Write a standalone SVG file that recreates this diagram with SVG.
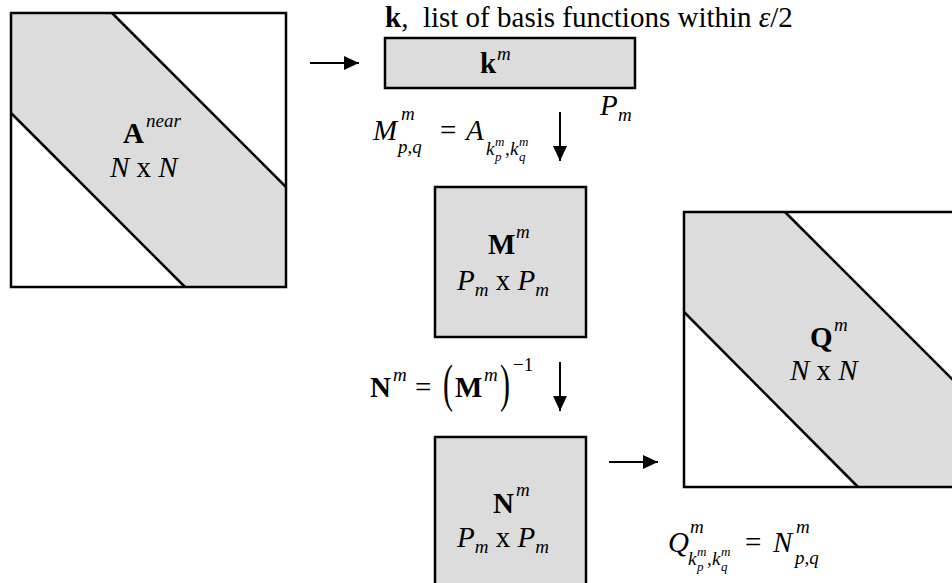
<svg xmlns="http://www.w3.org/2000/svg" width="952" height="583" viewBox="0 0 952 583">
<style>
.g{fill:#dcdcdc;stroke:none}
.bx{fill:#dcdcdc;stroke:#000;stroke-width:2.5}
.fr{fill:none;stroke:#000;stroke-width:2.5}
.wh{fill:#fff;stroke:none}
.ed{stroke:#000;stroke-width:2.5;fill:none}
.cn{stroke:#000;stroke-width:2;fill:none}
text{font-family:"Liberation Serif","Times New Roman",serif;font-size:29px;fill:#000}
.i{font-style:italic}
.b{font-weight:bold}
.s{font-size:19px}
.ss{font-size:13px}
</style>
<defs>
<marker id="ah" viewBox="0 0 15 14" refX="15" refY="7" markerWidth="15" markerHeight="14" markerUnits="userSpaceOnUse" orient="auto">
<path d="M0,0 L15,7 L0,14 z" fill="#000"/>
</marker>
</defs>

<g id="anear">
<rect class="wh" x="11" y="13" width="275" height="274"/>
<polygon class="g" points="11,13 112,13 286,187 286,287 185,287 11,113"/>
<line class="ed" x1="112" y1="13" x2="286" y2="187"/>
<line class="ed" x1="11" y1="113" x2="185" y2="287"/>
<rect class="fr" x="11" y="13" width="275" height="274"/>
<text x="123" y="143" class="b">A</text>
<text x="146" y="127" class="i s">near</text>
<text x="110" y="177"><tspan class="i">N</tspan> x <tspan class="i">N</tspan></text>
</g>

<g id="title">
<text x="385" y="27" xml:space="preserve"><tspan class="b">k</tspan>,  list of basis functions within <tspan class="i">ε</tspan>/2</text>
</g>

<g id="km">
<rect class="bx" x="385" y="38" width="250" height="50"/>
<text x="480" y="73" class="b">k</text>
<text x="497" y="60" class="i s">m</text>
<text x="600" y="115" class="i">P</text>
<text x="618" y="121" class="i s">m</text>
</g>

<g id="mformula">
<text x="373" y="140" class="i">M</text>
<text x="401" y="120" class="i s">m</text>
<text x="398" y="153" class="i s">p,q</text>
<text x="440" y="140">=</text>
<text x="466" y="140" class="i">A</text>
<text x="486" y="155" class="i s">k</text>
<text x="495" y="146" class="i ss">m</text>
<text x="495" y="161" class="i ss">p</text>
<text x="505" y="155" class="i s">,</text>
<text x="510" y="155" class="i s">k</text>
<text x="519" y="146" class="i ss">m</text>
<text x="519" y="161" class="i ss">q</text>
</g>

<g id="mm">
<rect class="bx" x="435" y="187" width="151" height="150"/>
<text x="488" y="254" class="b">M</text>
<text x="516" y="238" class="i s">m</text>
<text x="457" y="290"><tspan class="i">P</tspan><tspan class="i s" dy="6">m</tspan><tspan dy="-6"> x </tspan><tspan class="i">P</tspan><tspan class="i s" dy="6">m</tspan></text>
</g>

<g id="nformula">
<text x="370" y="397" class="b">N</text>
<text x="393" y="381" class="i s">m</text>
<text x="415" y="397">=</text>
<text transform="translate(443,401) scale(1,1.75)" style="font-size:30px">(</text>
<text x="455" y="397" class="b">M</text>
<text x="484" y="381" class="i s">m</text>
<text transform="translate(500,401) scale(1,1.75)" style="font-size:30px">)</text>
<text x="513" y="371" class="s">−1</text>
</g>

<g id="nm">
<rect class="bx" x="435" y="437" width="151" height="150"/>
<text x="493" y="513" class="b">N</text>
<text x="516" y="496" class="i s">m</text>
<text x="457" y="547"><tspan class="i">P</tspan><tspan class="i s" dy="6">m</tspan><tspan dy="-6"> x </tspan><tspan class="i">P</tspan><tspan class="i s" dy="6">m</tspan></text>
</g>

<g id="qm">
<rect class="wh" x="684" y="212" width="275" height="275"/>
<polygon class="g" points="684,212 785,212 959,386 959,487 858,487 684,312"/>
<line class="ed" x1="785" y1="212" x2="959" y2="386"/>
<line class="ed" x1="684" y1="312" x2="858" y2="487"/>
<rect class="fr" x="684" y="212" width="275" height="275"/>
<text x="810" y="347" class="b">Q</text>
<text x="834" y="331" class="i s">m</text>
<text x="790" y="380"><tspan class="i">N</tspan> x <tspan class="i">N</tspan></text>
</g>

<g id="qformula">
<text x="668" y="552" class="i">Q</text>
<text x="690" y="533" class="i s">m</text>
<text x="688" y="565" class="i s">k</text>
<text x="697" y="556" class="i ss">m</text>
<text x="697" y="571" class="i ss">p</text>
<text x="707" y="565" class="i s">,</text>
<text x="712" y="565" class="i s">k</text>
<text x="721" y="556" class="i ss">m</text>
<text x="721" y="571" class="i ss">q</text>
<text x="745" y="552">=</text>
<text x="773" y="552" class="i">N</text>
<text x="796" y="533" class="i s">m</text>
<text x="795" y="564" class="i s">p,q</text>
</g>

<g id="connectors">
<line class="cn" x1="310" y1="63" x2="359" y2="63" marker-end="url(#ah)"/>
<line class="cn" x1="560" y1="112" x2="560" y2="161" marker-end="url(#ah)"/>
<line class="cn" x1="560" y1="362" x2="560" y2="411" marker-end="url(#ah)"/>
<line class="cn" x1="609" y1="462" x2="658" y2="462" marker-end="url(#ah)"/>
</g>
</svg>
